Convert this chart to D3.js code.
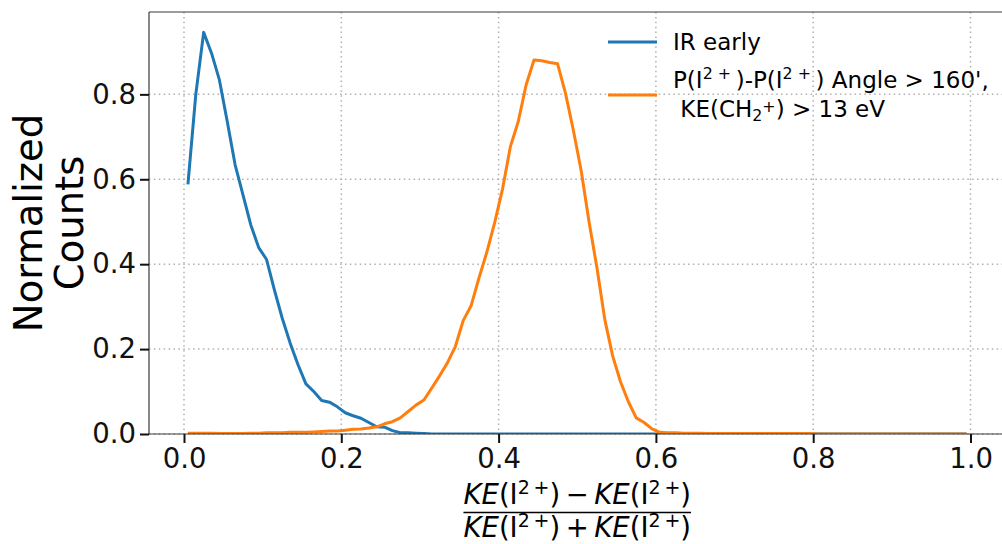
<!DOCTYPE html>
<html>
<head>
<meta charset="utf-8">
<script src="https://cdn.jsdelivr.net/npm/d3@7"></script>
<style>
  html, body { margin: 0; padding: 0; background: #fff; }
  svg { display: block; font-family: "DejaVu Sans", sans-serif; }
</style>
</head>
<body>
<svg id="chart" width="1002" height="544"></svg>
<script>
// Histogram bin centres of the kinetic-energy asymmetry parameter
const binCenters = [
  0.005, 0.015, 0.025, 0.035, 0.045, 0.055, 0.065, 0.075, 0.085, 0.095,
  0.105, 0.115, 0.125, 0.135, 0.145, 0.155, 0.165, 0.175, 0.185, 0.195,
  0.205, 0.215, 0.225, 0.235, 0.245, 0.255, 0.265, 0.275, 0.285, 0.295,
  0.305, 0.315, 0.325, 0.335, 0.345, 0.355, 0.365, 0.375, 0.385, 0.395,
  0.405, 0.415, 0.425, 0.435, 0.445, 0.455, 0.465, 0.475, 0.485, 0.495,
  0.505, 0.515, 0.525, 0.535, 0.545, 0.555, 0.565, 0.575, 0.585, 0.595,
  0.605, 0.615, 0.625, 0.635, 0.645, 0.655, 0.665, 0.675, 0.685, 0.695,
  0.705, 0.715, 0.725, 0.735, 0.745, 0.755, 0.765, 0.775, 0.785, 0.795,
  0.805, 0.815, 0.825, 0.835, 0.845, 0.855, 0.865, 0.875, 0.885, 0.895,
  0.905, 0.915, 0.925, 0.935, 0.945, 0.955, 0.965, 0.975, 0.985, 0.995
];

// Normalized counts, "IR early"
const irEarly = [
  0.588, 0.800, 0.946, 0.897, 0.834, 0.736, 0.634, 0.563, 0.492, 0.439,
  0.411, 0.339, 0.272, 0.214, 0.163, 0.118, 0.100, 0.079, 0.075, 0.064,
  0.050, 0.043, 0.037, 0.027, 0.017, 0.016, 0.008, 0.003, 0.003, 0.002,
  0.001, 0, 0, 0, 0, 0, 0, 0, 0, 0,
  0, 0, 0, 0, 0, 0, 0, 0, 0, 0,
  0, 0, 0, 0, 0, 0, 0, 0, 0, 0,
  0, 0, 0, 0, 0, 0, 0, 0, 0, 0,
  0, 0, 0, 0, 0, 0, 0, 0, 0, 0,
  0, 0, 0, 0, 0, 0, 0, 0, 0, 0,
  0, 0, 0, 0, 0, 0, 0, 0, 0, 0
];

// Normalized counts, back-to-back I2+ pairs with energetic CH2+
const angleCut = [
  0.002, 0.002, 0.002, 0.002, 0.001, 0.001, 0.001, 0.001, 0.002, 0.002,
  0.003, 0.003, 0.003, 0.004, 0.004, 0.004, 0.005, 0.006, 0.007, 0.007,
  0.009, 0.011, 0.012, 0.014, 0.017, 0.024, 0.029, 0.038, 0.053, 0.068,
  0.080, 0.108, 0.137, 0.168, 0.206, 0.267, 0.302, 0.367, 0.428, 0.498,
  0.577, 0.677, 0.736, 0.822, 0.881, 0.879, 0.875, 0.872, 0.803, 0.716,
  0.620, 0.500, 0.392, 0.270, 0.184, 0.123, 0.076, 0.038, 0.027, 0.012,
  0.004, 0.003, 0.003, 0.002, 0.002, 0.002, 0.001, 0.001, 0.001, 0.001,
  0.001, 0.001, 0.001, 0.001, 0.001, 0.001, 0.001, 0.001, 0.001, 0.001,
  0, 0, 0, 0, 0, 0, 0, 0, 0, 0,
  0, 0, 0, 0, 0, 0, 0, 0, 0, 0
];

const xTicks = [0.0, 0.2, 0.4, 0.6, 0.8, 1.0];
const yTicks = [0.0, 0.2, 0.4, 0.6, 0.8];
const seriesColors = ["#1f77b4", "#ff7f0e"];

const svg = d3.select("#chart");
const plot = { left: 149, top: 12, right: 1005.5, bottom: 434 };

const x = d3.scaleLinear().domain([-0.0445, 1.0445]).range([plot.left, plot.right]);
const y = d3.scaleLinear().domain([0, 0.994]).range([plot.bottom, plot.top]);

// clip region for the data lines
svg.append("defs").append("clipPath").attr("id", "plotClip")
  .append("rect")
  .attr("x", plot.left).attr("y", plot.top)
  .attr("width", plot.right - plot.left).attr("height", plot.bottom - plot.top);

// dotted grid
const grid = svg.append("g").attr("class", "grid")
  .attr("stroke", "#b0b0b0").attr("stroke-width", 1.5)
  .attr("stroke-dasharray", "1.5,3.4");
grid.selectAll("line.gx").data(xTicks).join("line").attr("class", "gx")
  .attr("x1", d => x(d)).attr("x2", d => x(d))
  .attr("y1", plot.top).attr("y2", plot.bottom);
grid.selectAll("line.gy").data(yTicks).join("line").attr("class", "gy")
  .attr("y1", d => y(d)).attr("y2", d => y(d))
  .attr("x1", plot.left).attr("x2", plot.right);

// data lines
const line = d3.line().x(d => x(d[0])).y(d => y(d[1]));
const series = [irEarly, angleCut];
const lines = svg.append("g").attr("clip-path", "url(#plotClip)");
series.forEach((vals, i) => {
  lines.append("path")
    .datum(binCenters.map((c, k) => [c, vals[k]]))
    .attr("d", line)
    .attr("fill", "none")
    .attr("stroke", seriesColors[i])
    .attr("stroke-width", 3)
    .attr("stroke-linejoin", "round");
});

// spines (left, top, bottom)
const spines = svg.append("g").attr("stroke", "#3a3a3a").attr("stroke-width", 1.2);
spines.append("line").attr("x1", plot.left).attr("x2", plot.left).attr("y1", plot.top).attr("y2", plot.bottom);
spines.append("line").attr("x1", plot.left).attr("x2", plot.right).attr("y1", plot.top).attr("y2", plot.top);
spines.append("line").attr("x1", plot.left).attr("x2", plot.right).attr("y1", plot.bottom).attr("y2", plot.bottom);

// axes
const tickFont = 27.5;
const xAxis = svg.append("g")
  .attr("transform", `translate(0,${plot.bottom})`)
  .call(d3.axisBottom(x).tickValues(xTicks).tickFormat(d3.format(".1f")).tickSize(9).tickPadding(5));
const yAxis = svg.append("g")
  .attr("transform", `translate(${plot.left},0)`)
  .call(d3.axisLeft(y).tickValues(yTicks).tickFormat(d3.format(".1f")).tickSize(9).tickPadding(4));
[xAxis, yAxis].forEach(a => {
  a.select(".domain").remove();
  a.selectAll(".tick line").attr("stroke", "#111").attr("stroke-width", 2);
  a.selectAll(".tick text").attr("fill", "#111")
    .attr("font-family", "DejaVu Sans").attr("font-size", tickFont);
});

// rich text helper: plain / italic / superscript / subscript runs
function rich(textSel, parts, size) {
  let offset = 0;
  parts.forEach(p => {
    const ts = textSel.append("tspan").text(p.t);
    let target = 0;
    if (p.sup) { target = -size * p.sup; ts.attr("font-size", size * 0.69); }
    if (p.sub) { target = size * p.sub; ts.attr("font-size", size * 0.69); }
    if (p.it) ts.attr("font-style", "italic");
    if (target !== offset) { ts.attr("dy", target - offset); offset = target; }
  });
  return textSel;
}

// y-axis label
const yLabFont = 38.5;
const yLabCenter = (plot.top + plot.bottom) / 2;
svg.append("text")
  .attr("transform", `translate(42,${yLabCenter}) rotate(-90)`)
  .attr("text-anchor", "middle").attr("font-size", yLabFont).attr("fill", "#000")
  .text("Normalized");
svg.append("text")
  .attr("transform", `translate(83,${yLabCenter}) rotate(-90)`)
  .attr("text-anchor", "middle").attr("font-size", yLabFont).attr("fill", "#000")
  .text("Counts");

// x-axis label as a fraction
const xLabFont = 27.5;
const fracCx = (plot.left + plot.right) / 2;
const ion = [
  { t: "KE", it: true }, { t: "(I" }, { t: "2\u2009+", sup: 0.37 }, { t: ")" }
];
const numText = rich(svg.append("text")
  .attr("x", fracCx).attr("y", 504).attr("text-anchor", "middle")
  .attr("font-size", xLabFont).attr("fill", "#000"),
  [...ion, { t: "\u2009\u2212\u2009" }, ...ion], xLabFont);
const denText = rich(svg.append("text")
  .attr("x", fracCx).attr("y", 537).attr("text-anchor", "middle")
  .attr("font-size", xLabFont).attr("fill", "#000"),
  [...ion, { t: "\u2009+\u2009" }, ...ion], xLabFont);
const nb = numText.node().getBBox(), db = denText.node().getBBox();
const barW = Math.max(nb.width, db.width);
svg.append("line")
  .attr("x1", fracCx - barW / 2).attr("x2", fracCx + barW / 2)
  .attr("y1", 512.5).attr("y2", 512.5)
  .attr("stroke", "#000").attr("stroke-width", 1.6);

// legend
const legFont = 23;
const legend = svg.append("g");
const legendRows = [
  { color: seriesColors[0], y: 42, lines: [[{ t: "IR early" }]], base: [50] },
  {
    color: seriesColors[1], y: 95,
    lines: [
      [{ t: "P(I" }, { t: "2 +", sup: 0.37 }, { t: "\u2009)-P(I" }, { t: "2 +", sup: 0.37 }, { t: "\u2009) Angle > 160'," }],
      [{ t: "\u00a0KE(CH" }, { t: "2", sub: 0.16 }, { t: "+", sup: 0.22 }, { t: ") > 13 eV" }]
    ],
    base: [88, 117]
  }
];
legendRows.forEach(r => {
  legend.append("line")
    .attr("x1", 608).attr("x2", 657).attr("y1", r.y).attr("y2", r.y)
    .attr("stroke", r.color).attr("stroke-width", 3);
  r.lines.forEach((parts, j) => {
    rich(legend.append("text")
      .attr("x", 673).attr("y", r.base[j])
      .attr("font-size", legFont).attr("fill", "#000")
      .style("white-space", "pre"), parts, legFont);
  });
});
</script>
</body>
</html>
